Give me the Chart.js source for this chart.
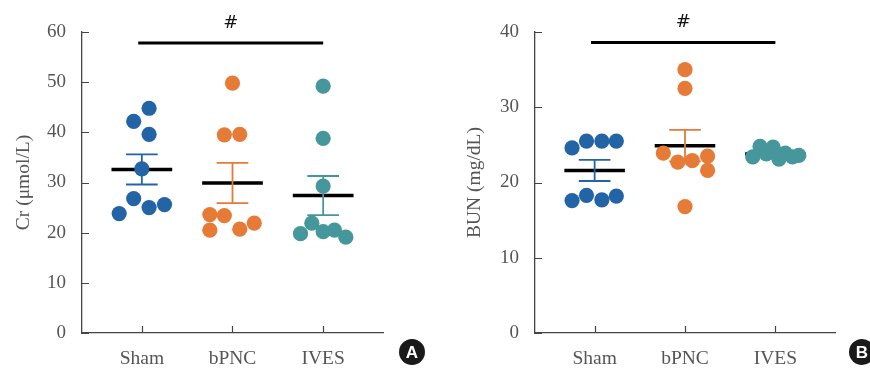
<!DOCTYPE html>
<html lang="en">
<head>
<meta charset="UTF-8">
<title>Cr and BUN</title>
<script src="https://cdn.jsdelivr.net/npm/chart.js"></script>
<style>
  body { margin: 0; background: #fff; }
  .panel { position: absolute; top: 0; height: 370px; }
</style>
</head>
<body>
<div class="panel" style="left:0;width:440px"><canvas id="crChart" width="440" height="370"></canvas></div>
<div class="panel" style="left:440px;width:430px"><canvas id="bunChart" width="430" height="370"></canvas></div>
<script>
const groups = ['Sham', 'bPNC', 'IVES'];
const groupColors = ['#2364a6', '#e67b37', '#46979b'];

// Cr (umol/L)
const crSham = [44.8, 42.2, 39.6, 32.7, 26.8, 23.8, 25.0, 25.6];
const crBpnc = [49.8, 39.5, 39.6, 23.6, 23.4, 20.5, 20.7, 21.9];
const crIves = [49.2, 38.8, 29.3, 21.9, 19.8, 20.2, 20.5, 19.1];
const crMean = [32.6, 29.9, 27.4];
const crSem = [3.0, 4.0, 3.9];

// BUN (mg/dL)
const bunSham = [24.6, 25.5, 25.5, 25.5, 17.6, 18.3, 17.7, 18.2];
const bunBpnc = [35.0, 32.5, 23.9, 22.7, 22.9, 23.5, 21.6, 16.8];
const bunIves = [23.4, 24.8, 23.8, 24.7, 23.1, 23.9, 23.4, 23.6];
const bunMean = [21.6, 24.9, 23.8];
const bunSem = [1.4, 2.1, 0.2];

// horizontal jitter of the dots inside each group (x units)
const crJitter = [
  [0.08, -0.09, 0.08, 0, -0.09, -0.25, 0.08, 0.25],
  [0, -0.09, 0.08, -0.25, -0.09, -0.25, 0.08, 0.24],
  [0, 0, 0, -0.125, -0.25, 0, 0.125, 0.25]
];
const bunJitter = [
  [-0.25, -0.09, 0.08, 0.24, -0.25, -0.09, 0.08, 0.24],
  [0, 0, -0.24, -0.08, 0.08, 0.25, 0.25, 0],
  [-0.25, -0.17, -0.1, -0.025, 0.04, 0.11, 0.19, 0.26]
];

const serif = "'Liberation Serif', 'DejaVu Serif', serif";
const textGray = '#555';

function buildDatasets(values, jitter, mean, sem, sigY) {
  const ds = [];
  values.forEach((vals, g) => {
    const cx = g + 1;
    ds.push({
      type: 'scatter', order: 0,
      data: vals.map((v, i) => ({ x: cx + jitter[g][i], y: v })),
      backgroundColor: groupColors[g], borderWidth: 0,
      pointRadius: 7.6, pointHoverRadius: 7.6
    });
    const hi = mean[g] + sem[g], lo = mean[g] - sem[g];
    ds.push({
      type: 'line', order: 1,
      data: [
        { x: cx - 0.175, y: hi }, { x: cx + 0.175, y: hi }, { x: cx, y: null },
        { x: cx, y: hi }, { x: cx, y: lo }, { x: cx, y: null },
        { x: cx - 0.175, y: lo }, { x: cx + 0.175, y: lo }
      ],
      borderColor: groupColors[g], borderWidth: 1.8, pointRadius: 0, spanGaps: false
    });
    ds.push({
      type: 'line', order: 2,
      data: [{ x: cx - 0.335, y: mean[g] }, { x: cx + 0.335, y: mean[g] }],
      borderColor: '#000', borderWidth: 3.5, pointRadius: 0
    });
  });
  ds.push({
    type: 'line', order: 3,
    data: [{ x: 0.96, y: sigY }, { x: 3.0, y: sigY }],
    borderColor: '#000', borderWidth: 3, pointRadius: 0
  });
  return ds;
}

// inside tick marks, the "#" mark and the panel letter
const panelDeco = {
  id: 'panelDeco',
  afterDraw(chart, args, opts) {
    const { ctx, chartArea } = chart;
    const xs = chart.scales.x, ys = chart.scales.y;
    ctx.save();
    ctx.strokeStyle = '#444';
    ctx.lineWidth = 1.2;
    ctx.beginPath();
    xs.ticks.forEach(t => {
      const px = Math.round(xs.getPixelForValue(t.value)) + 0.5;
      ctx.moveTo(px, chartArea.bottom);
      ctx.lineTo(px, chartArea.bottom - 7);
    });
    ys.ticks.forEach(t => {
      const py = Math.round(ys.getPixelForValue(t.value)) + 0.5;
      ctx.moveTo(chartArea.left, py);
      ctx.lineTo(chartArea.left + 7, py);
    });
    ctx.stroke();

    ctx.fillStyle = '#111';
    ctx.font = "18px 'DejaVu Sans', sans-serif";
    ctx.textAlign = 'center';
    ctx.textBaseline = 'middle';
    ctx.fillText('#', xs.getPixelForValue(1.98), ys.getPixelForValue(opts.sigY) - 20);

    ctx.beginPath();
    ctx.arc(opts.badgeX, 352, 13, 0, Math.PI * 2);
    ctx.fillStyle = '#1a1a1a';
    ctx.fill();
    ctx.fillStyle = '#fff';
    ctx.font = "bold 17px 'Liberation Sans', sans-serif";
    ctx.fillText(opts.badge, opts.badgeX, 353);
    ctx.restore();
  }
};

function makeChart(id, cfg) {
  new Chart(document.getElementById(id), {
    data: { datasets: buildDatasets(cfg.values, cfg.jitter, cfg.mean, cfg.sem, cfg.sigY) },
    options: {
      responsive: false,
      animation: false,
      layout: { padding: { left: cfg.padLeft, right: cfg.padRight, top: 32, bottom: 0 } },
      plugins: {
        legend: { display: false },
        tooltip: { enabled: false },
        panelDeco: { badge: cfg.badge, badgeX: cfg.badgeX, sigY: cfg.sigY }
      },
      scales: {
        x: {
          type: 'linear', min: 0.34, max: 3.66,
          afterBuildTicks: axis => { axis.ticks = groups.map((g, i) => ({ value: i + 1 })); },
          afterFit: axis => { axis.height = 37; },
          grid: { display: false, drawTicks: false },
          border: { display: true, color: '#444', width: 1.3 },
          ticks: {
            padding: 14, color: textGray,
            font: { family: serif, size: 19.5 },
            callback: v => groups[v - 1]
          }
        },
        y: {
          min: 0, max: cfg.yMax,
          afterFit: axis => { axis.width = cfg.yWidth; },
          grid: { display: false, drawTicks: false },
          border: { display: true, color: '#444', width: 1.3 },
          ticks: { stepSize: 10, padding: 16, color: textGray, font: { family: serif, size: 19 } },
          title: {
            display: true, text: cfg.title, color: textGray,
            font: { family: serif, size: 19.5 }, padding: { top: 12, bottom: 0 }
          }
        }
      }
    },
    plugins: [panelDeco]
  });
}

makeChart('crChart', {
  values: [crSham, crBpnc, crIves], jitter: crJitter, mean: crMean, sem: crSem,
  sigY: 57.8, yMax: 60, title: 'Cr (\u03bcmol/L)',
  padLeft: 0, padRight: 57, yWidth: 82, badge: 'A', badgeX: 412
});
makeChart('bunChart', {
  values: [bunSham, bunBpnc, bunIves], jitter: bunJitter, mean: bunMean, sem: bunSem,
  sigY: 38.6, yMax: 40, title: 'BUN (mg/dL)',
  padLeft: 11, padRight: 35, yWidth: 84, badge: 'B', badgeX: 422
});
</script>
</body>
</html>
